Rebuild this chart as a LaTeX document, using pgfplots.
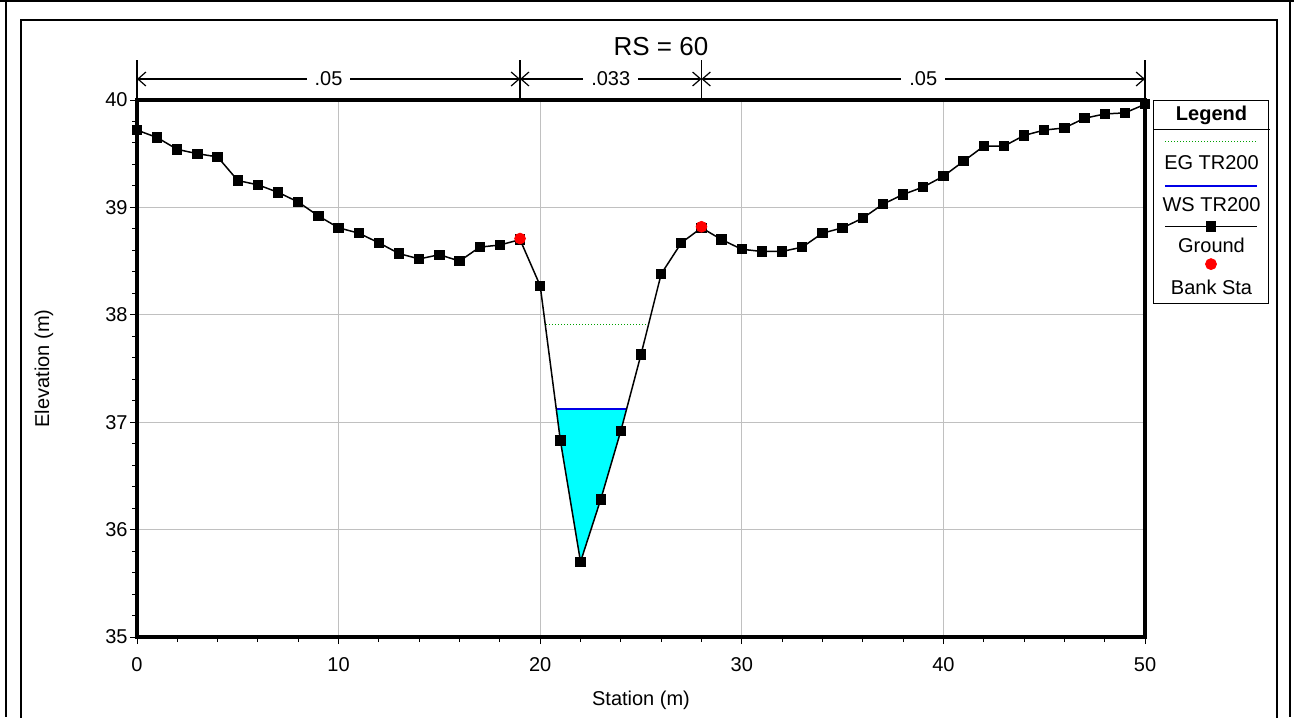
\documentclass[border=0pt]{standalone}
\usepackage{fontspec}
\setmainfont{Liberation Sans}
\usepackage{pgfplots}
\usepackage{pgfplotstable}
\pgfplotsset{compat=1.18}
\usetikzlibrary{arrows.meta}
\definecolor{gridgray}{RGB}{192,192,192}
\definecolor{egreen}{RGB}{0,160,0}
\definecolor{wsblue}{RGB}{0,0,230}
\definecolor{watercyan}{RGB}{0,255,255}

\pgfplotstableread{
x y
0 39.72
1 39.65
2 39.54
3 39.50
4 39.47
5 39.25
6 39.21
7 39.14
8 39.05
9 38.92
10 38.81
11 38.76
12 38.67
13 38.57
14 38.52
15 38.56
16 38.50
17 38.63
18 38.65
19 38.70
20 38.27
21 36.83
22 35.70
23 36.28
24 36.92
25 37.63
26 38.38
27 38.67
28 38.81
29 38.70
30 38.61
31 38.59
32 38.59
33 38.63
34 38.76
35 38.81
36 38.90
37 39.03
38 39.12
39 39.19
40 39.29
41 39.43
42 39.57
43 39.57
44 39.67
45 39.72
46 39.74
47 39.83
48 39.87
49 39.88
50 39.96
}\ground

\pgfplotstableread{
x y
19 38.71
28 38.82
}\banks

\begin{document}
\begin{tikzpicture}
\useasboundingbox (0,0) rectangle (647pt,358.5pt);
\begin{scope}[x=0.5pt,y=-0.5pt,yshift=358.5pt]
  \draw[line width=1pt] (0,1) -- (1294,1);
  \draw[line width=1pt] (6,0) -- (6,717);
  \draw[line width=1pt] (1290,0) -- (1290,717);
  \draw[line width=1pt] (21,720) -- (21,20) -- (1277,20) -- (1277,720);
  \node[font=\fontsize{13}{15}\selectfont] at (661,47) {RS = 60};
\end{scope}
\begin{axis}[
  at={(68.5pt,40pt)}, anchor=south west,
  width=504pt, height=268.5pt, scale only axis,
  xmin=0, xmax=50, ymin=35, ymax=40,
  xtick={0,10,...,50}, ytick={35,...,40},
  minor x tick num=4, minor y tick num=4,
  tick align=outside, tick pos=left,
  major tick length=3.5pt, minor tick length=2.5pt,
  every tick/.style={black, line width=0.5pt},
  grid=major, major grid style={gridgray, line width=0.6pt},
  axis line style={line width=2pt},
  tick label style={font=\fontsize{10}{12}\selectfont},
  yticklabel style={inner xsep=1pt},
  xticklabel style={yshift=-3pt},
  /pgf/number format/assume math mode=true,
  xlabel={Station (m)}, ylabel={Elevation (m)},
  label style={font=\fontsize{10}{12}\selectfont},
  xlabel style={at={(axis description cs:0.5,-0.1173)}, anchor=center},
  ylabel style={at={(axis description cs:-0.0923,0.5)}, anchor=center},
  clip=false,
  legend cell align=center,
  legend style={at={(axis description cs:1,1)}, anchor=north west, xshift=4pt,
     draw=black, line width=0.5pt, fill=white, inner xsep=0.5pt, inner ysep=0.5pt,
     font=\fontsize{10}{12}\selectfont, column sep=0pt, row sep=7.3pt,
     nodes={inner sep=2pt, text height=7.5pt, text depth=2pt}},
]
% water area
\addplot[fill=watercyan, draw=none, forget plot] coordinates {(20.80,37.12) (21,36.83) (22,35.70) (23,36.28) (24,36.92) (24.28,37.12)};
% EG and WS
\addplot[egreen, densely dotted, line width=0.5pt, forget plot] coordinates {(20.3,37.91) (25.3,37.91)};
\addplot[wsblue, line width=0.85pt, forget plot] coordinates {(20.80,37.12) (24.28,37.12)};
% ground
\addplot[black, line width=0.75pt, mark=square*, mark size=2.2pt, forget plot] table {\ground};
% bank stations
\addplot[only marks, mark=*, mark size=2.7pt, red, forget plot] table {\banks};

% Manning's n brackets
\draw[line width=0.6pt] (axis cs:0,40) -- (axis cs:0,40.372);
\draw[line width=0.6pt] (axis cs:19,40) -- (axis cs:19,40.372);
\draw[line width=0.6pt] (axis cs:28,40) -- (axis cs:28,40.372);
\draw[line width=0.6pt] (axis cs:50,40) -- (axis cs:50,40.372);
\draw[line width=0.6pt, {Straight Barb[length=4pt,width=7pt]}-{Straight Barb[length=4pt,width=7pt]}] (axis cs:0,40.1955) -- node[fill=white, font=\fontsize{10}{12}\selectfont, inner xsep=4pt, inner ysep=1pt] {.05} (axis cs:19,40.1955);
\draw[line width=0.6pt, {Straight Barb[length=4pt,width=7pt]}-{Straight Barb[length=4pt,width=7pt]}] (axis cs:19,40.1955) -- node[fill=white, font=\fontsize{10}{12}\selectfont, inner xsep=4pt, inner ysep=1pt] {.033} (axis cs:28,40.1955);
\draw[line width=0.6pt, {Straight Barb[length=4pt,width=7pt]}-{Straight Barb[length=4pt,width=7pt]}] (axis cs:28,40.1955) -- node[fill=white, font=\fontsize{10}{12}\selectfont, inner xsep=4pt, inner ysep=1pt] {.05} (axis cs:50,40.1955);

% legend
\addlegendimage{empty legend}
\addlegendentry[text depth=5.7pt]{\textbf{Legend}}
\addlegendimage{legend image code/.code={\path (0pt,0pt); \draw[overlay, egreen, densely dotted, line width=0.5pt] (5pt,11.5pt) -- (51pt,11.5pt);}}
\addlegendentry{\makebox[52pt]{EG TR200}}
\addlegendimage{legend image code/.code={\path (0pt,0pt); \draw[overlay, wsblue, line width=0.85pt] (5pt,9.85pt) -- (51pt,9.85pt);}}
\addlegendentry{\makebox[52pt]{WS TR200}}
\addlegendimage{legend image code/.code={\path (0pt,0pt); \draw[overlay, black, line width=0.75pt, mark=square*, mark size=2.2pt, mark repeat=2, mark phase=2] plot coordinates {(5pt,10.35pt) (28pt,10.35pt) (51pt,10.35pt)};}}
\addlegendentry{\makebox[52pt]{Ground}}
\addlegendimage{legend image code/.code={\path (0pt,0pt); \path[overlay, mark=*, mark size=2.7pt, mark options={fill=red, draw=red}] plot coordinates {(28pt,12.35pt)};}}
\addlegendentry{\makebox[52pt]{Bank Sta}}
\end{axis}
\begin{scope}[x=0.5pt,y=-0.5pt,yshift=358.5pt]
  \draw[line width=0.5pt] (1153,130) -- (1270,130);
\end{scope}
\end{tikzpicture}
\end{document}
